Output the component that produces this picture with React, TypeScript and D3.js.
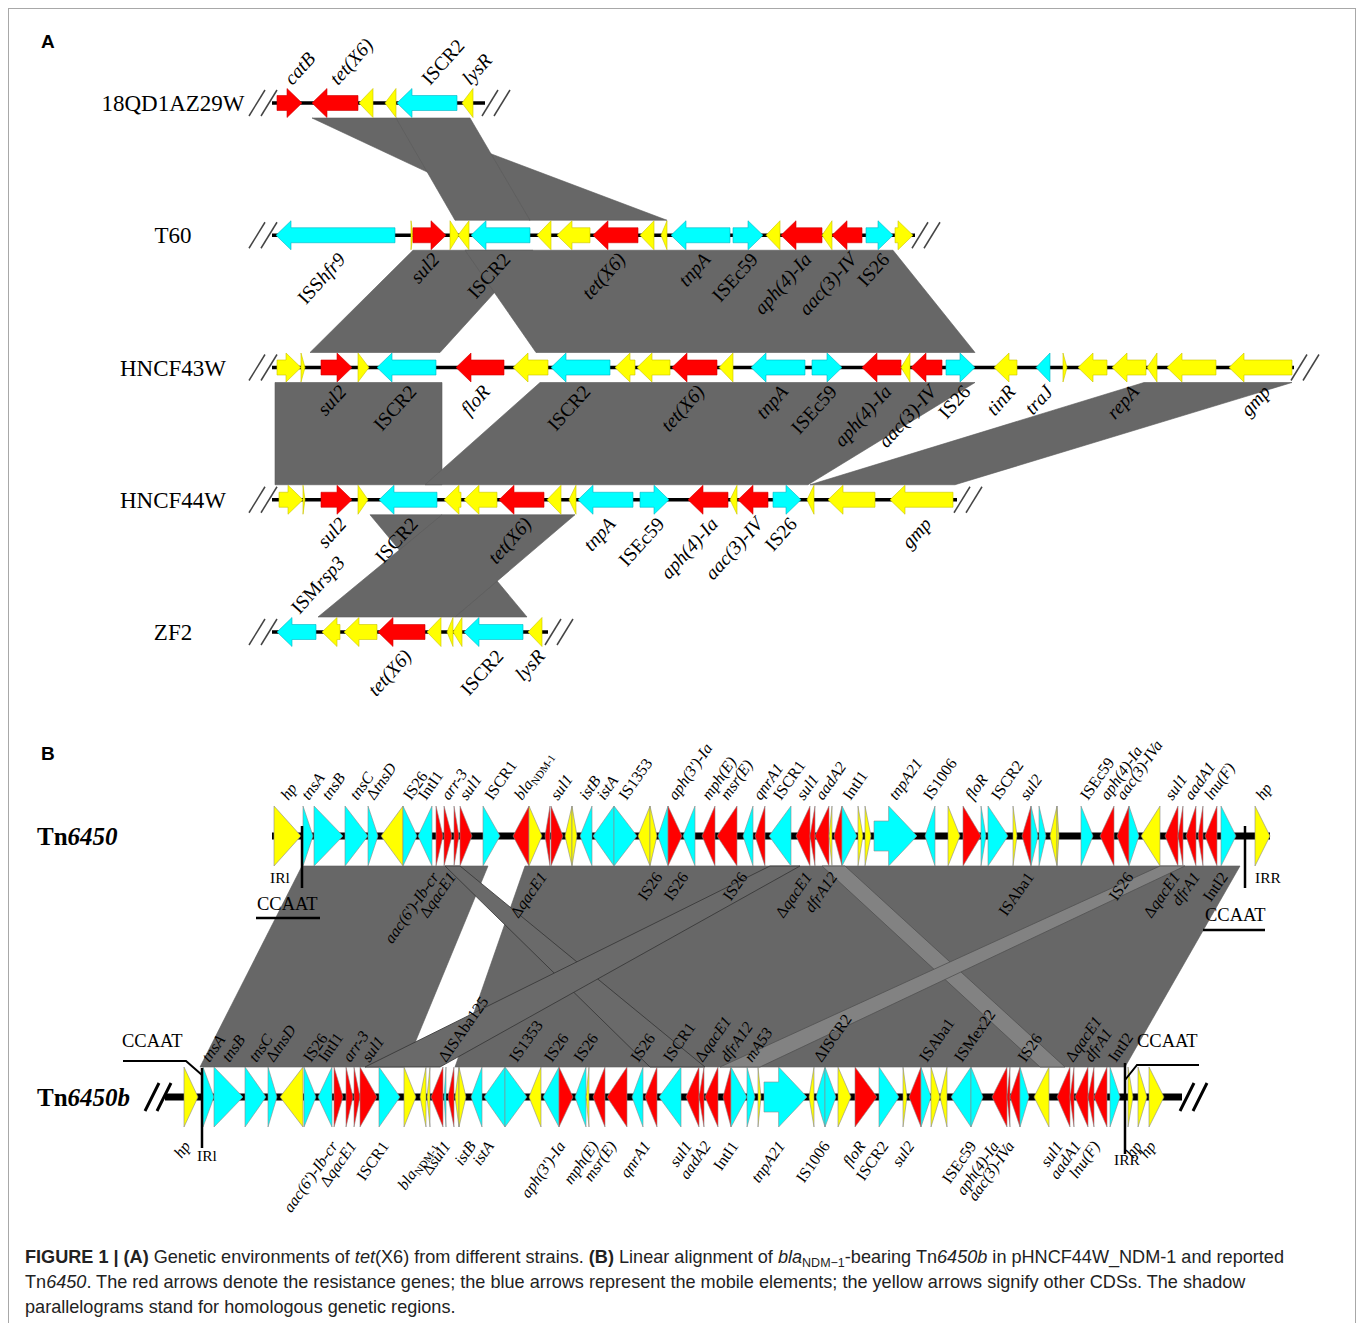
import React from 'react';
import * as d3 from 'd3';

const W = 1360;
const H = 1323;
const SERIF = '"Liberation Serif", "Times New Roman", serif';
const SANS = '"Liberation Sans", Arial, sans-serif';

// ---- panel A: tet(X6) environments (map units, ~1 unit = 10 px) ----
const rowsA = ['18QD1AZ29W', 'T60', 'HNCF43W', 'HNCF44W', 'ZF2'];
const spansA = [[2.2, 23.5], [2.2, 66.5], [2.2, 104.4], [2.2, 70.7], [2.2, 29.8]];

// [start, end, type, strand, label, side]  side: a = above, b = below
const genes18QD = [
  [2.7, 5.2, 'r', 1, 'catB', 'a'],
  [6.2, 10.8, 'r', -1, 'tet(X6)', 'a'],
  [10.9, 12.3, 'y', -1],
  [13.5, 14.6, 'y', -1],
  [14.7, 20.7, 'c', -1, 'ISCR2', 'a'],
  [21.2, 22.3, 'y', -1, 'lysR', 'a'],
];
const genesT60 = [
  [2.6, 14.5, 'c', -1, 'ISS|hfr9', 'b'],
  [16.1, 16.3, 'y', 1],
  [16.3, 19.6, 'r', 1, 'sul2', 'b'],
  [20.0, 20.9, 'y', 1],
  [20.8, 21.9, 'y', -1],
  [22.1, 28.0, 'c', -1, 'ISCR2', 'b'],
  [28.7, 30.1, 'y', -1],
  [30.7, 34.0, 'y', -1],
  [34.3, 38.8, 'r', -1, 'tet(X6)', 'b'],
  [39.0, 40.4, 'y', -1],
  [41.1, 41.7, 'y', -1],
  [42.1, 48.0, 'c', -1, 'tnpA', 'b'],
  [48.3, 51.3, 'c', 1, 'ISEc59', 'b'],
  [51.6, 53.0, 'y', -1],
  [53.1, 57.2, 'r', -1, 'aph(4)-Ia', 'b'],
  [57.2, 58.2, 'y', -1],
  [58.2, 61.2, 'r', -1, 'aac(3)-IV', 'b'],
  [61.6, 64.3, 'c', 1, 'IS26', 'b'],
  [64.5, 66.3, 'y', 1],
];
const genesHNCF43W = [
  [2.7, 5.1, 'y', 1],
  [5.1, 5.5, 'y', 1],
  [7.1, 10.2, 'r', 1, 'sul2', 'b'],
  [10.8, 11.9, 'y', 1],
  [12.7, 18.6, 'c', -1, 'ISCR2', 'b'],
  [20.6, 25.4, 'r', -1, 'floR', 'b'],
  [26.3, 29.8, 'y', -1],
  [30.1, 36.0, 'c', -1, 'ISCR2', 'b'],
  [36.5, 38.5, 'y', -1],
  [38.7, 42.0, 'y', -1],
  [42.2, 46.7, 'r', -1, 'tet(X6)', 'b'],
  [46.9, 48.3, 'y', -1],
  [50.1, 55.5, 'c', -1, 'tnpA', 'b'],
  [56.2, 59.2, 'c', 1, 'ISEc59', 'b'],
  [61.2, 65.1, 'r', -1, 'aph(4)-Ia', 'b'],
  [65.1, 66.0, 'y', -1],
  [66.1, 69.2, 'r', -1, 'aac(3)-IV', 'b'],
  [69.6, 72.5, 'c', 1, 'IS26', 'b'],
  [74.4, 76.7, 'y', -1, 'tinR', 'b'],
  [78.6, 80.0, 'c', -1, 'traJ', 'b'],
  [81.3, 81.7, 'y', 1],
  [82.8, 85.7, 'y', -1],
  [86.2, 89.6, 'y', -1, 'repA', 'b'],
  [89.7, 90.7, 'y', -1],
  [91.7, 96.6, 'y', -1],
  [97.9, 104.2, 'y', -1, 'gmp', 'b'],
];
const genesHNCF44W = [
  [2.9, 5.3, 'y', 1],
  [5.3, 5.5, 'y', 1],
  [7.1, 10.2, 'r', 1, 'sul2', 'b'],
  [10.8, 11.8, 'y', 1],
  [12.9, 18.7, 'c', -1, 'ISCR2', 'b'],
  [19.4, 21.1, 'y', -1],
  [21.4, 24.7, 'y', -1],
  [24.9, 29.4, 'r', -1, 'tet(X6)', 'b'],
  [29.7, 31.1, 'y', -1],
  [31.9, 32.6, 'y', -1],
  [32.8, 38.3, 'c', -1, 'tnpA', 'b'],
  [39.0, 41.9, 'c', 1, 'ISEc59', 'b'],
  [43.8, 47.8, 'r', -1, 'aph(4)-Ia', 'b'],
  [48.0, 48.7, 'y', -1],
  [48.8, 51.8, 'r', -1, 'aac(3)-IV', 'b'],
  [52.3, 55.1, 'c', 1, 'IS26', 'b'],
  [55.7, 56.4, 'y', -1],
  [57.8, 62.5, 'y', -1],
  [64.0, 70.3, 'y', -1, 'gmp', 'b'],
];
const genesZF2 = [
  [2.7, 6.6, 'c', -1, 'ISM|rsp3', 'a'],
  [7.2, 9.0, 'y', -1],
  [9.4, 12.7, 'y', -1],
  [12.8, 17.5, 'r', -1, 'tet(X6)', 'b'],
  [17.7, 19.1, 'y', -1],
  [19.7, 20.3, 'y', -1],
  [20.3, 21.2, 'y', -1],
  [21.4, 27.3, 'c', -1, 'ISCR2', 'b'],
  [27.8, 29.2, 'y', -1, 'lysR', 'b'],
];
const genesA = [genes18QD, genesT60, genesHNCF43W, genesHNCF44W, genesZF2];

// homologous regions: [upper row, top start, top end, bottom start, bottom end]
const linksA = [
  [0, 6.2, 14.6, 28.0, 41.7],
  [0, 14.6, 22.0, 20.5, 28.0],
  [1, 16.3, 28.3, 6.0, 19.0],
  [1, 21.5, 64.3, 28.6, 72.5],
  [2, 2.5, 19.2, 2.5, 19.2],
  [2, 29.0, 72.5, 17.5, 55.8],
  [2, 89.4, 104.2, 56.0, 70.5],
  [3, 12.0, 19.2, 20.5, 27.7],
  [3, 19.2, 32.5, 6.8, 20.5],
];

// ---- panel B: Tn6450 vs Tn6450b ----
const rowsB = ['Tn6450', 'Tn6450b'];
const spansB = [[12.2, 112.0], [1.5, 103.2]];
const repeatsB = [[15.2, 109.5], [5.2, 97.5]];

const genesTn6450 = [
  [12.4, 15.1, 'y', 1, 'hp', 'a'],
  [15.3, 16.3, 'c', 1, 'tnsA', 'a'],
  [16.4, 19.3, 'c', 1, 'tnsB', 'a'],
  [19.5, 21.8, 'c', 1, 'tnsC', 'a'],
  [21.8, 22.8, 'c', 1, 'ΔtnsD', 'a'],
  [23.1, 25.3, 'y', -1],
  [25.3, 26.7, 'c', 1, 'IS26', 'a'],
  [26.8, 28.2, 'c', -1, 'IntI1', 'a'],
  [28.6, 29.3, 'r', 1, "aac(6')-Ib-cr", 'b'],
  [29.4, 30.2, 'r', 1, 'arr-3', 'a'],
  [30.4, 30.9, 'r', 1, 'ΔqacE1', 'b'],
  [31.0, 32.2, 'r', 1, 'sul1', 'a'],
  [33.3, 35.0, 'c', 1, 'ISCR1', 'a'],
  [36.3, 37.9, 'r', -1, 'blaNDM-1', 'a'],
  [37.9, 39.2, 'y', 1],
  [39.5, 40.0, 'r', -1, 'ΔqacE1', 'b'],
  [40.1, 41.3, 'r', 1, 'sul1', 'a'],
  [41.5, 42.2, 'y', -1],
  [42.2, 42.7, 'y', 1],
  [43.0, 44.2, 'c', -1, 'istB', 'a'],
  [44.3, 46.4, 'c', -1, 'istA', 'a'],
  [46.4, 48.7, 'c', 1, 'IS1353', 'a'],
  [48.8, 50.0, 'y', -1],
  [50.0, 50.7, 'y', 1],
  [50.8, 51.8, 'c', -1, 'IS26', 'b'],
  [51.8, 53.2, 'r', 1, "aph(3')-Ia", 'a'],
  [53.3, 54.5, 'c', -1, 'IS26', 'b'],
  [55.2, 56.5, 'r', -1, 'mph(E)', 'a'],
  [56.7, 58.7, 'r', -1, 'msr(E)', 'a'],
  [59.3, 60.3, 'c', -1, 'IS26', 'b'],
  [60.5, 61.5, 'r', -1, 'qnrA1', 'a'],
  [61.9, 64.1, 'c', -1, 'ISCR1', 'a'],
  [64.6, 66.0, 'r', -1, 'sul1', 'a'],
  [66.0, 66.5, 'r', -1, 'ΔqacE1', 'b'],
  [66.5, 67.9, 'r', -1, 'aadA2', 'a'],
  [67.9, 68.2, 'y', -1],
  [68.4, 69.2, 'r', -1, 'dfrA12', 'b'],
  [69.2, 70.7, 'c', 1, 'IntI1', 'a'],
  [70.8, 71.3, 'y', 1],
  [71.5, 72.1, 'y', 1],
  [72.4, 76.7, 'C', 1, 'tnpA21', 'a'],
  [77.5, 78.5, 'c', -1, 'IS1006', 'a'],
  [79.8, 81.0, 'y', 1],
  [81.3, 83.1, 'r', 1, 'floR', 'a'],
  [83.1, 83.6, 'c', 1],
  [83.8, 85.8, 'c', 1, 'ISCR2', 'a'],
  [86.3, 86.7, 'y', 1],
  [87.2, 88.1, 'r', -1, 'sul2', 'a'],
  [88.1, 88.8, 'c', 1, 'ISAba1', 'b'],
  [88.9, 89.6, 'c', 1],
  [90.0, 90.7, 'y', -1],
  [90.7, 90.9, 'y', 1],
  [93.1, 94.3, 'c', 1, 'ISEc59', 'a'],
  [95.0, 96.4, 'r', -1, 'aph(4)-Ia', 'a'],
  [96.7, 97.9, 'r', -1, 'aac(3)-IVa', 'a'],
  [97.9, 98.9, 'c', 1, 'IS26', 'b'],
  [99.1, 101.0, 'y', -1],
  [101.5, 102.8, 'r', -1, 'sul1', 'a'],
  [102.8, 103.3, 'r', -1, 'ΔqacE1', 'b'],
  [103.6, 104.6, 'r', -1, 'aadA1', 'a'],
  [104.8, 105.3, 'r', -1, 'dfrA1', 'b'],
  [105.5, 106.7, 'r', -1, 'lnu(F)', 'a'],
  [107.1, 108.6, 'c', 1, 'IntI2', 'b'],
  [110.5, 112.0, 'y', 1, 'hp', 'a'],
];
const genesTn6450b = [
  [3.4, 4.8, 'y', 1, 'hp', 'b'],
  [5.3, 6.4, 'c', 1, 'tnsA', 'a'],
  [6.4, 9.3, 'c', 1, 'tnsB', 'a'],
  [9.5, 11.6, 'c', 1, 'tnsC', 'a'],
  [11.8, 12.7, 'c', 1, 'ΔtnsD', 'a'],
  [13.0, 15.3, 'y', -1],
  [15.4, 16.6, 'c', 1, 'IS26', 'a'],
  [16.8, 18.2, 'c', -1, 'IntI1', 'a'],
  [18.4, 19.3, 'r', 1, "aac(6')-Ib-cr", 'b'],
  [19.6, 20.3, 'r', 1, 'arr-3', 'a'],
  [20.4, 21.0, 'r', 1, 'ΔqacE1', 'b'],
  [21.0, 22.7, 'r', 1, 'sul1', 'a'],
  [22.9, 25.0, 'c', 1, 'ISCR1', 'b'],
  [25.4, 26.6, 'y', 1],
  [27.0, 27.6, 'y', -1],
  [27.7, 28.0, 'y', -1],
  [28.1, 29.3, 'r', -1, 'blaNDM-1', 'b'],
  [29.4, 29.6, 'c', -1, 'ΔISAba125', 'a'],
  [29.8, 30.4, 'r', -1, 'Δsul1', 'b'],
  [30.5, 30.9, 'y', -1],
  [30.9, 31.6, 'y', 1],
  [32.1, 33.2, 'c', -1, 'istB', 'b'],
  [33.4, 35.5, 'c', -1, 'istA', 'b'],
  [35.5, 37.7, 'c', 1, 'IS1353', 'a'],
  [37.9, 39.1, 'y', -1],
  [39.3, 40.9, 'c', -1, 'IS26', 'a'],
  [40.9, 42.3, 'r', 1, "aph(3')-Ia", 'b'],
  [42.5, 43.6, 'c', -1, 'IS26', 'a'],
  [43.6, 43.9, 'y', -1],
  [44.3, 45.5, 'r', -1, 'mph(E)', 'b'],
  [45.7, 47.7, 'r', -1, 'msr(E)', 'b'],
  [48.2, 49.3, 'c', -1, 'IS26', 'a'],
  [49.5, 50.7, 'r', -1, 'qnrA1', 'b'],
  [50.9, 53.1, 'c', -1, 'ISCR1', 'a'],
  [53.6, 54.9, 'r', -1, 'sul1', 'b'],
  [54.9, 55.4, 'r', -1, 'ΔqacE1', 'a'],
  [55.5, 56.8, 'r', -1, 'aadA2', 'b'],
  [57.3, 58.1, 'r', -1, 'dfrA12', 'a'],
  [58.1, 59.7, 'c', 1, 'IntI1', 'b'],
  [59.7, 60.5, 'c', 1, 'mA53', 'a'],
  [60.8, 61.1, 'y', 1],
  [61.4, 65.7, 'C', 1, 'tnpA21', 'b'],
  [65.9, 66.4, 'y', -1],
  [66.6, 67.5, 'c', -1, 'ΔISCR2', 'a'],
  [67.5, 68.6, 'c', 1, 'IS1006', 'b'],
  [68.8, 70.1, 'y', 1],
  [70.5, 72.7, 'r', 1, 'floR', 'b'],
  [72.9, 74.9, 'c', 1, 'ISCR2', 'b'],
  [75.3, 75.7, 'y', 1],
  [75.9, 77.1, 'r', -1, 'sul2', 'b'],
  [77.1, 78.1, 'c', 1, 'ISAba1', 'a'],
  [78.1, 79.0, 'y', 1],
  [79.0, 79.7, 'y', -1],
  [80.1, 82.1, 'c', -1, 'ISMex22', 'a'],
  [82.1, 83.3, 'c', 1, 'ISEc59', 'b'],
  [84.2, 85.7, 'r', -1, 'aph(4)-Ia', 'b'],
  [85.7, 86.0, 'r', -1],
  [86.0, 87.0, 'r', -1, 'aac(3)-IVa', 'b'],
  [87.0, 87.9, 'c', 1, 'IS26', 'a'],
  [88.4, 89.9, 'y', -1],
  [90.7, 92.0, 'r', -1, 'sul1', 'b'],
  [92.0, 92.4, 'r', -1, 'ΔqacE1', 'a'],
  [92.5, 93.8, 'r', -1, 'aadA1', 'b'],
  [93.8, 94.4, 'r', -1, 'dfrA1', 'a'],
  [94.4, 95.7, 'r', -1, 'lnu(F)', 'b'],
  [96.0, 97.0, 'c', 1, 'IntI2', 'a'],
  [97.8, 98.3, 'y', 1],
  [98.8, 99.7, 'y', 1, 'hp', 'b'],
  [99.9, 101.4, 'y', 1, 'hp', 'b'],
];
const genesB = [genesTn6450, genesTn6450b];

// [top start, top end, bottom start, bottom end]
const linksB = [[15.2, 33.8, 5.0, 25.5], [37.5, 109.0, 30.5, 97.5]];
const thinLinksB = [[29.5, 31.0, 50.0, 55.5], [62.0, 65.0, 21.5, 29.0]];
const lightLinksB = [[67.2, 69.5, 89.0, 91.5], [101.0, 103.5, 57.0, 61.0]];

const fills = { r: '#ff0000', c: '#00ffff', C: '#00ffff', y: '#ffff00' };
const edgesA = { r: '#d00000', c: '#00b4c4', C: '#00b4c4', y: '#c9c400' };

const xA = d3.scaleLinear().domain([0, 110]).range([250, 1350]);
const yA = d3.scalePoint().domain(rowsA).range([103, 632]);
const xB = d3.scaleLinear().domain([0, 120]).range([150, 1350]);
const yB = d3.scalePoint().domain(rowsB).range([836, 1097]);

const poly = d3.line().curve(d3.curveLinearClosed);

function arrow(x0, x1, y, dir, hh, bh, hl) {
  const len = x1 - x0;
  const pts = bh === 0 || len <= hl
    ? [[0, -hh], [len, 0], [0, hh]]
    : [[0, -bh], [len - hl, -bh], [len - hl, -hh], [len, 0], [len - hl, hh], [len - hl, bh], [0, bh]];
  return poly(pts.map(([px, py]) => [dir > 0 ? x0 + px : x1 - px, y + py]));
}

function quad(t0, t1, b0, b1, yt, yb, x) {
  return poly([[x(t0), yt], [x(t1), yt], [x(b1), yb], [x(b0), yb]]);
}

function labelSpans(text) {
  if (text.startsWith('bla')) {
    return [
      <tspan key="a" fontStyle="italic">bla</tspan>,
      <tspan key="b" fontSize="68%" dy="3">NDM-1</tspan>,
    ];
  }
  if (text.includes('|')) {
    const [a, b] = text.split('|');
    return [<tspan key="a">{a}</tspan>, <tspan key="b" fontStyle="italic">{b}</tspan>];
  }
  if (/^Δ?(IS|Int)/.test(text)) return text;
  if (text.startsWith('Δ')) {
    return [<tspan key="a">Δ</tspan>, <tspan key="b" fontStyle="italic">{text.slice(1)}</tspan>];
  }
  return <tspan fontStyle="italic">{text}</tspan>;
}

function slashes(x, y, dx, dy, key, w, color) {
  return (
    <line key={key} x1={x - dx / 2} y1={y + dy / 2} x2={x + dx / 2} y2={y - dy / 2}
      stroke={color} strokeWidth={w} />
  );
}

const PanelA = () => {
  const marks = [];
  rowsA.forEach((r, i) => {
    const y = yA(r);
    const [s, e] = spansA[i];
    [-15, -3].forEach((o, k) => marks.push(slashes(xA(s) + o, y, 16, 26, `l${i}${k}`, 1.5, '#444')));
    [5, 17].forEach((o, k) => marks.push(slashes(xA(e) + o, y, 16, 26, `r${i}${k}`, 1.5, '#444')));
  });
  return (
    <g>
      {linksA.map(([r, t0, t1, b0, b1], i) => (
        <path key={i} d={quad(t0, t1, b0, b1, yA(rowsA[r]) + 15, yA(rowsA[r + 1]) - 15, xA)}
          fill="#676767" stroke="#5a5a5a" strokeWidth={0.6} />
      ))}
      {rowsA.map((r, i) => (
        <g key={r}>
          <text x={173} y={yA(r) + 8} textAnchor="middle" fontFamily={SERIF} fontSize={23}>{r}</text>
          <line x1={xA(spansA[i][0])} x2={xA(spansA[i][1])} y1={yA(r)} y2={yA(r)} stroke="#000" strokeWidth={3.5} />
          {genesA[i].map((g, j) => (
            <path key={j} d={arrow(xA(g[0]), xA(g[1]), yA(r), g[3], 14.5, 7.5, 15)}
              fill={fills[g[2]]} stroke={edgesA[g[2]]} strokeWidth={0.6} />
          ))}
          {genesA[i].filter((g) => g[4]).map((g, j) => {
            const cx = xA((g[0] + g[1]) / 2);
            const above = g[5] === 'a';
            const px = above ? cx + 3 : cx + 11;
            const py = above ? yA(r) - 17 : yA(r) + 25;
            return (
              <text key={'t' + j} transform={`translate(${px},${py}) rotate(-48)`}
                textAnchor={above ? 'start' : 'end'} fontFamily={SERIF} fontSize={19.5}>
                {labelSpans(g[4])}
              </text>
            );
          })}
        </g>
      ))}
      {marks}
    </g>
  );
};

const labelOffB = [[-35, 41], [-34, 49]];

const PanelB = () => {
  const yt = yB(rowsB[0]) + 30;
  const yb = yB(rowsB[1]) - 30;
  const [irL0, irR0] = repeatsB[0];
  const [irL1, irR1] = repeatsB[1];
  const y0 = yB(rowsB[0]);
  const y1 = yB(rowsB[1]);
  return (
    <g>
      {linksB.map(([t0, t1, b0, b1], i) => (
        <path key={'m' + i} d={quad(t0, t1, b0, b1, yt, yb, xB)} fill="#676767" stroke="#5a5a5a" strokeWidth={0.6} />
      ))}
      {thinLinksB.map(([t0, t1, b0, b1], i) => (
        <path key={'t' + i} d={quad(t0, t1, b0, b1, yt, yb, xB)} fill="#6a6a6a" stroke="#333" strokeWidth={0.8} />
      ))}
      {lightLinksB.map(([t0, t1, b0, b1], i) => (
        <path key={'l' + i} d={quad(t0, t1, b0, b1, yt, yb, xB)} fill="#828282" stroke="#505050" strokeWidth={0.8} />
      ))}
      {rowsB.map((r, i) => (
        <g key={r}>
          <text x={37} y={yB(r) + 9} fontFamily={SERIF} fontSize={25} fontWeight="bold">
            Tn<tspan fontStyle="italic">{r.slice(2)}</tspan>
          </text>
          <line x1={xB(spansB[i][0])} x2={xB(spansB[i][1])} y1={yB(r)} y2={yB(r)} stroke="#000" strokeWidth={7} />
          {genesB[i].map((g, j) => {
            const len = xB(g[1]) - xB(g[0]);
            const body = g[2] === 'C';
            return (
              <path key={j} d={arrow(xB(g[0]), xB(g[1]), yB(r), g[3], 30, body ? 15 : 0, body ? len * 0.66 : 0)}
                fill={fills[g[2]]} stroke="#8a8a8a" strokeWidth={0.6} />
            );
          })}
          {genesB[i].filter((g) => g[4]).map((g, j) => {
            const cx = xB((g[0] + g[1]) / 2);
            const above = g[5] === 'a';
            const px = above ? cx + 1 : cx;
            const py = yB(r) + (above ? labelOffB[i][0] : labelOffB[i][1]);
            return (
              <text key={'t' + j} transform={`translate(${px},${py}) rotate(-55)`}
                textAnchor={above ? 'start' : 'end'} fontFamily={SERIF} fontSize={16}>
                {labelSpans(g[4])}
              </text>
            );
          })}
        </g>
      ))}
      {/* Tn6450 inverted repeats */}
      <line x1={xB(irL0)} x2={xB(irL0)} y1={y0 - 10} y2={y0 + 52} stroke="#000" strokeWidth={2.5} />
      <line x1={xB(irR0)} x2={xB(irR0)} y1={y0 - 10} y2={y0 + 52} stroke="#000" strokeWidth={2.5} />
      <text x={xB(irL0) - 32} y={y0 + 47} fontFamily={SERIF} fontSize={15.5}>IRl</text>
      <text x={xB(irR0) + 10} y={y0 + 47} fontFamily={SERIF} fontSize={15.5}>IRR</text>
      <text x={xB(irL0) - 45} y={y0 + 74} fontFamily={SERIF} fontSize={18.5}>CCAAT</text>
      <line x1={xB(irL0) - 46} x2={xB(irL0) + 18} y1={y0 + 82} y2={y0 + 82} stroke="#000" strokeWidth={2.5} />
      <text x={xB(irR0) - 40} y={y0 + 85} fontFamily={SERIF} fontSize={18.5}>CCAAT</text>
      <line x1={xB(irR0) - 42} x2={xB(irR0) + 20} y1={y0 + 94} y2={y0 + 94} stroke="#000" strokeWidth={2.5} />
      {/* Tn6450b inverted repeats */}
      <line x1={xB(irL1)} x2={xB(irL1)} y1={y1 - 29} y2={y1 + 51} stroke="#000" strokeWidth={2.5} />
      <polyline points={`${xB(irL1) - 79},${y1 - 36} ${xB(irL1) - 16},${y1 - 36} ${xB(irL1)},${y1 - 22}`}
        fill="none" stroke="#000" strokeWidth={2} />
      <text x={xB(irL1) - 80} y={y1 - 50} fontFamily={SERIF} fontSize={18.5}>CCAAT</text>
      <text x={xB(irL1) - 5} y={y1 + 64} fontFamily={SERIF} fontSize={15.5}>IRl</text>
      <line x1={xB(irR1)} x2={xB(irR1)} y1={y1 - 34} y2={y1 + 57} stroke="#000" strokeWidth={2.5} />
      <polyline points={`${xB(irR1)},${y1 - 17} ${xB(irR1) + 12},${y1 - 32} ${xB(irR1) + 74},${y1 - 32}`}
        fill="none" stroke="#000" strokeWidth={2} />
      <text x={xB(irR1) + 12} y={y1 - 50} fontFamily={SERIF} fontSize={18.5}>CCAAT</text>
      <text x={xB(irR1) - 11} y={y1 + 68} fontFamily={SERIF} fontSize={15.5}>IRR</text>
      {[-13, -1].map((o, k) => slashes(xB(spansB[1][0]) + o, y1, 14, 28, 'bl' + k, 3, '#000'))}
      {[5, 18].map((o, k) => slashes(xB(spansB[1][1]) + o, y1, 14, 28, 'br' + k, 3, '#000'))}
    </g>
  );
};

const Caption = () => (
  <g fontFamily={SANS} fontSize={18.1} fill="#222">
    <text x={25} y={1263}>
      <tspan fontWeight="bold">FIGURE 1 | (A)</tspan> Genetic environments of <tspan fontStyle="italic">tet</tspan>(X6) from different strains. <tspan fontWeight="bold">(B)</tspan> Linear alignment of <tspan fontStyle="italic">bla</tspan><tspan fontSize={12.5} dy={4}>NDM−1</tspan><tspan dy={-4}>-bearing Tn</tspan><tspan fontStyle="italic">6450b</tspan> in pHNCF44W_NDM-1 and reported
    </text>
    <text x={25} y={1288}>
      Tn<tspan fontStyle="italic">6450</tspan>. The red arrows denote the resistance genes; the blue arrows represent the mobile elements; the yellow arrows signify other CDSs. The shadow
    </text>
    <text x={25} y={1313}>parallelograms stand for homologous genetic regions.</text>
  </g>
);

const App = () => (
  <div style={{ position: 'absolute', left: 0, top: 0 }}>
    <svg width={W} height={H} style={{ display: 'block', background: '#fff' }}>
      <rect x={8.5} y={8.5} width={1347} height={1400} fill="#fff" stroke="#a8a8a8" strokeWidth={1} />
      <text x={41} y={48} fontFamily={SANS} fontSize={19} fontWeight="bold">A</text>
      <text x={41} y={760} fontFamily={SANS} fontSize={19} fontWeight="bold">B</text>
      <PanelA />
      <PanelB />
      <Caption />
    </svg>
  </div>
);

export default App;
